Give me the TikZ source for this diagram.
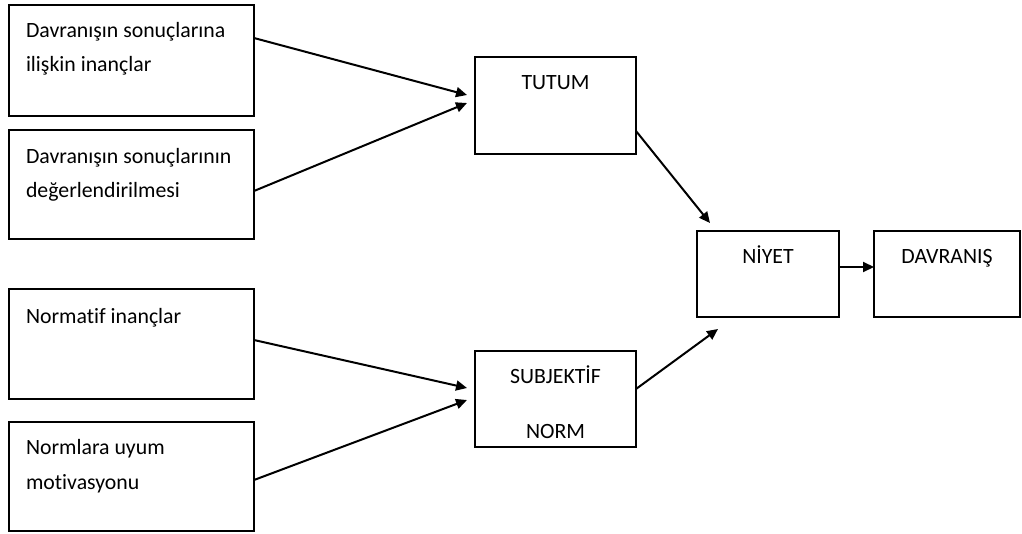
\documentclass[tikz,border=0pt]{standalone}
\usepackage{fontspec}
\setmainfont[Ligatures=NoCommon]{Carlito}
\usetikzlibrary{arrows.meta}

\tikzset{
  kutu/.style={draw, rectangle, line width=2pt, inner sep=0pt, outer sep=0pt},
  yazi/.style={inner sep=0pt, font=\fontsize{21.8}{34.5}\selectfont},
}

\begin{document}
\begin{tikzpicture}[x=1pt, y=-1pt, >={Triangle[length=11pt,width=10pt]}, line width=2pt]
\useasboundingbox (0,0) rectangle (1022,533);
% sol kutular
\node [kutu, minimum width=245pt, minimum height=111pt] (inanc) at (131.5,60.5) {};
\node [kutu, minimum width=245pt, minimum height=109pt] (deger) at (131.5,184.5) {};
\node [kutu, minimum width=245pt, minimum height=110pt] (normatif) at (131.5,344) {};
\node [kutu, minimum width=245pt, minimum height=109pt] (uyum) at (131.5,476.5) {};
% son satirin tabani
\node [yazi, anchor=base west, align=left] (inancyazi) at ([xshift=16pt,yshift=-66.5pt]inanc.north west) {Davranışın sonuçlarına\\ilişkin inançlar};
\node [yazi, anchor=base west, align=left] (degeryazi) at ([xshift=16pt,yshift=-67.5pt]deger.north west) {Davranışın sonuçlarının\\değerlendirilmesi};
\node [yazi, anchor=base west, align=left] (normatifyazi) at ([xshift=16pt,yshift=-34pt]normatif.north west) {Normatif inançlar};
\node [yazi, anchor=base west, align=left] (uyumyazi) at ([xshift=16pt,yshift=-67pt]uyum.north west) {Normlara uyum\\motivasyonu};
% orta kutular
\node [kutu, minimum width=161pt, minimum height=97pt] (tutum) at (555.5,105.5) {};
\node [kutu, minimum width=161pt, minimum height=96pt] (subj) at (555.5,399) {};
\node [yazi, anchor=base] (tutumyazi) at ([yshift=-32pt]tutum.north) {TUTUM};
\node [yazi, anchor=base, align=center] (subjyazi) at ([yshift=-87pt]subj.north) {SUBJEKTİF\\[20.5pt]NORM};
% sag kutular
\node [kutu, minimum width=142pt, minimum height=86pt] (niyet) at (768,274) {};
\node [kutu, minimum width=146pt, minimum height=86pt] (davr) at (947,274) {};
\node [yazi, anchor=base] (niyetyazi) at ([yshift=-32pt]niyet.north) {NİYET};
\node [yazi, anchor=base] (davryazi) at ([yshift=-32pt]davr.north) {DAVRANIŞ};
% oklar
\draw [->] ([yshift=-33pt]inanc.north east) -- ([xshift=-8pt,yshift=-38pt]tutum.north west);
\draw [->] ([yshift=-61pt]deger.north east) -- ([xshift=-8pt,yshift=-46pt]tutum.north west);
\draw [->] ([yshift=-51pt]normatif.north east) -- ([xshift=-8pt,yshift=-37pt]subj.north west);
\draw [->] ([yshift=-58pt]uyum.north east) -- ([xshift=-8pt,yshift=-49pt]subj.north west);
\draw [->] ([yshift=-74pt]tutum.north east) -- ([xshift=13pt,yshift=8pt]niyet.north west);
\draw [->] ([yshift=-38pt]subj.north east) -- ([xshift=21pt,yshift=-12pt]niyet.south west);
\draw [->] ([yshift=-36pt]niyet.north east) -- ([yshift=-36pt]davr.north west);
\end{tikzpicture}
\end{document}
